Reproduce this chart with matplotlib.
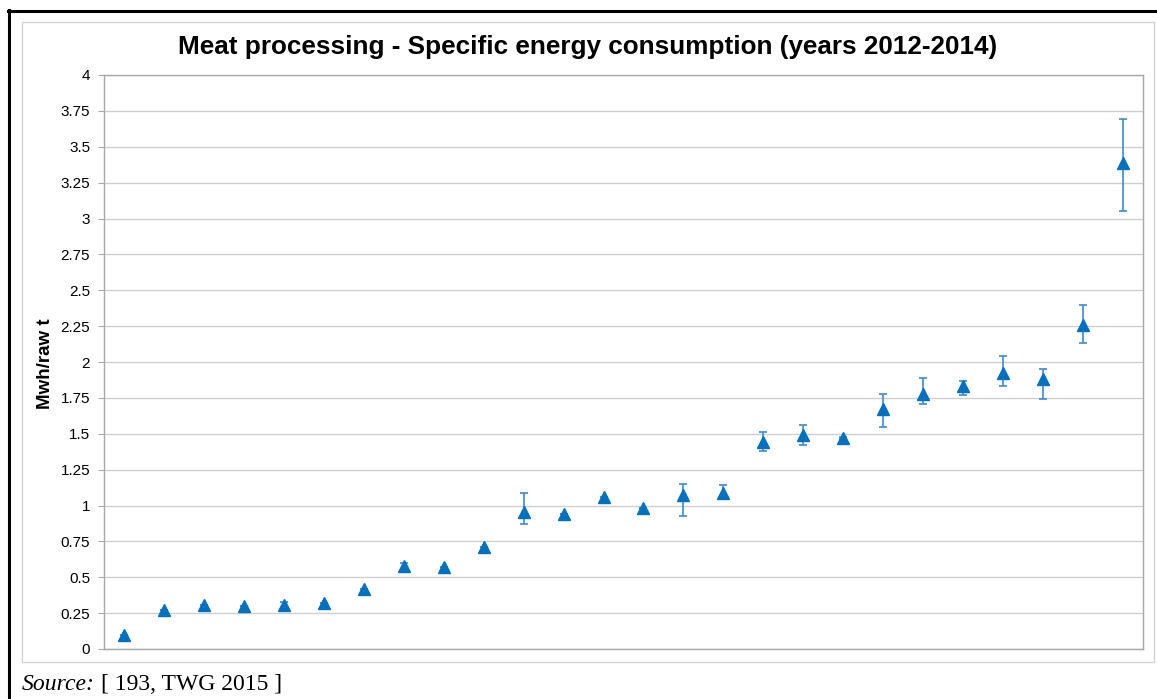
import matplotlib
matplotlib.use("Agg")
import matplotlib.pyplot as plt
from matplotlib.lines import Line2D
from matplotlib.patches import Rectangle
import numpy as np

# Data (26 sites, sorted)
values = [0.10, 0.27, 0.31, 0.30, 0.31, 0.32, 0.42, 0.58, 0.57, 0.71,
          0.955, 0.94, 1.06, 0.985, 1.07, 1.09, 1.445, 1.49, 1.47, 1.67,
          1.78, 1.83, 1.92, 1.88, 2.26, 3.39]
err_low = [0.10, 0.27, 0.31, 0.30, 0.29, 0.32, 0.42, 0.56, 0.57, 0.71,
           0.87, 0.94, 1.06, 0.985, 0.93, 1.05, 1.38, 1.42, 1.46, 1.55,
           1.71, 1.77, 1.83, 1.74, 2.13, 3.05]
err_high = [0.10, 0.27, 0.31, 0.30, 0.33, 0.32, 0.42, 0.60, 0.57, 0.71,
            1.09, 0.94, 1.06, 0.985, 1.15, 1.145, 1.51, 1.56, 1.48, 1.78,
            1.89, 1.87, 2.04, 1.95, 2.40, 3.69]
yticks = [0, 0.25, 0.5, 0.75, 1, 1.25, 1.5, 1.75, 2, 2.25, 2.5, 2.75, 3, 3.25, 3.5, 3.75, 4]
ytick_labels = ["0", "0.25", "0.5", "0.75", "1", "1.25", "1.5", "1.75", "2",
                "2.25", "2.5", "2.75", "3", "3.25", "3.5", "3.75", "4"]
title = "Meat processing - Specific energy consumption (years 2012-2014)"
ylabel = "Mwh/raw t"

W, H = 1157, 699
fig = plt.figure(figsize=(W / 100, H / 100), dpi=100)
fig.patch.set_facecolor("white")

def fx(px):
    return px / W

def fy(py):
    return 1 - py / H

# Outer black frame (top and left visible)
fig.add_artist(Line2D([fx(8), fx(1157)], [fy(10.5), fy(10.5)], color="black", lw=2.2))
fig.add_artist(Line2D([fx(8.5), fx(8.5)], [fy(10), fy(699)], color="black", lw=2.2))
# Chart area grey border
fig.add_artist(Rectangle((fx(22), fy(662)), fx(1154) - fx(22), fy(22) - fy(662),
                         fill=False, edgecolor="#d4d4d4", lw=1.0))

ax = fig.add_axes([fx(104), fy(649), fx(1143) - fx(104), fy(75) - fy(649)])
x = np.arange(len(values))
v = np.array(values)
lo = v - np.array(err_low)
hi = np.array(err_high) - v
ax.errorbar(x, v, yerr=[lo, hi], fmt="none", ecolor="#3d8ad6", elinewidth=1.2,
            capsize=3, capthick=1.2, zorder=3)
ax.plot(x, v, linestyle="none", marker="^", markersize=9, color="#0070c0",
        markeredgecolor="#0070c0", zorder=4)

ax.set_xlim(-0.5, len(values) - 0.5)
ax.set_ylim(0, 4)
ax.set_yticks(yticks)
ax.set_yticklabels(ytick_labels, fontfamily="Liberation Sans", fontsize=11)
ax.set_xticks([])
ax.yaxis.grid(True, color="#cfcfcf", lw=1.0)
ax.set_axisbelow(True)
for s in ax.spines.values():
    s.set_color("#a8a8a8")
    s.set_linewidth(1.0)
ax.tick_params(axis="y", length=4, color="#a8a8a8", pad=6)

fig.text(fx(588), fy(47), title, ha="center", va="center",
         fontfamily="Liberation Sans", fontweight="bold", fontsize=18.8)
fig.text(fx(46), fy(364), ylabel, ha="center", va="center", rotation=90,
         fontfamily="Liberation Sans", fontweight="bold", fontsize=13.5)

t1 = fig.text(fx(22), fy(684), "Source:", ha="left", va="center",
              fontfamily="Liberation Serif", fontstyle="italic", fontsize=17)
fig.canvas.draw()
bb = t1.get_window_extent()
fig.text(bb.x1 / W + fx(6), fy(684), "[ 193, TWG 2015 ]", ha="left", va="center",
         fontfamily="Liberation Serif", fontsize=17)

fig.savefig("out.png", dpi=100)
